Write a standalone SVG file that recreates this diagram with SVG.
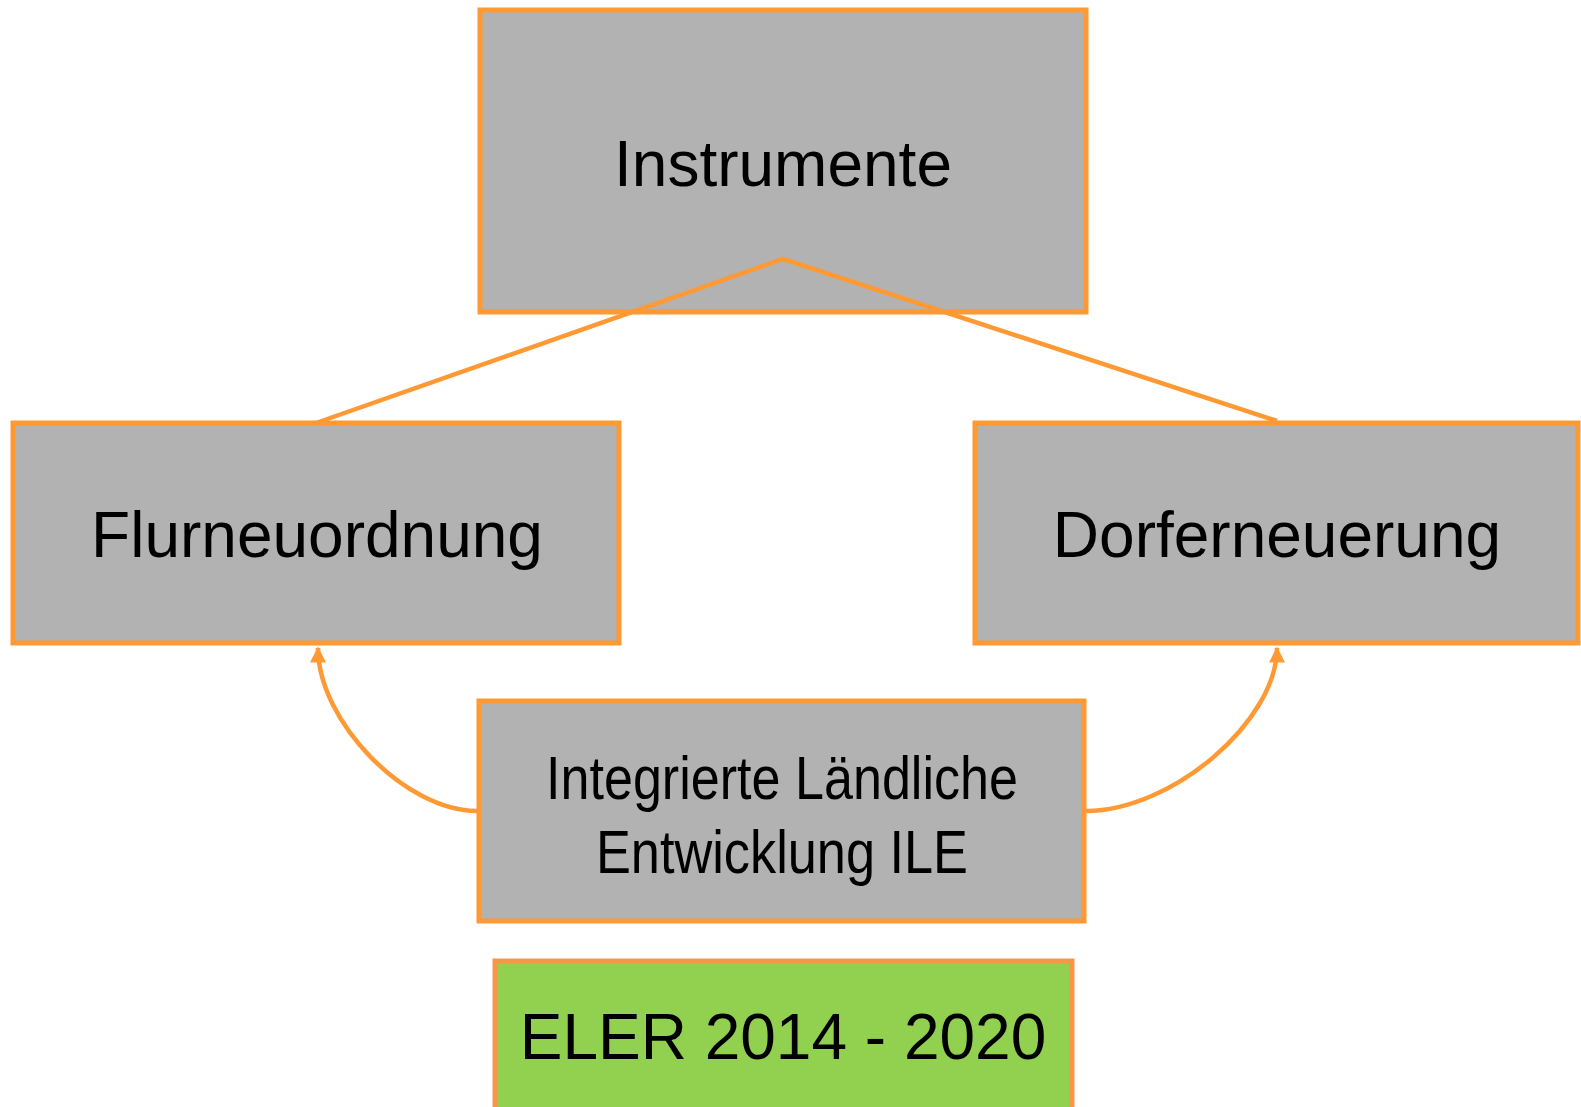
<svg xmlns="http://www.w3.org/2000/svg" width="1581" height="1107" viewBox="0 0 1581 1107">
<defs>
<style>
.box{fill:#B2B2B2;stroke:#FF9933;stroke-width:5}
.green{fill:#92D050;stroke:#F79646;stroke-width:5}
.lbl{font-family:"Liberation Sans",Arial,sans-serif;font-size:64px;fill:#000;text-anchor:middle}
.cn{fill:none;stroke:#FF9933;stroke-width:4.5}
</style>
<marker id="ah" viewBox="0 0 10 10" refX="9" refY="5" markerWidth="3.8" markerHeight="3.6" orient="auto" markerUnits="strokeWidth">
<path d="M0,0 L10,5 L0,10 z" fill="#FF9933"/>
</marker>
</defs>
<rect width="1581" height="1107" fill="#fff"/>
<g id="n-instrumente">
<rect class="box" x="480" y="10" width="606" height="302"/>
<text class="lbl" x="783" y="186">Instrumente</text>
</g>
<g id="n-flur">
<rect class="box" x="13" y="423" width="606" height="220"/>
<text class="lbl" x="317" y="557">Flurneuordnung</text>
</g>
<g id="n-dorf">
<rect class="box" x="975" y="423" width="603" height="220"/>
<text class="lbl" x="1277" y="557">Dorferneuerung</text>
</g>
<g id="n-ile">
<rect class="box" x="479" y="701" width="605" height="220"/>
<text class="lbl" x="782" y="799" textLength="472" lengthAdjust="spacingAndGlyphs" style="font-size:62px">Integrierte Ländliche</text>
<text class="lbl" x="782" y="873" textLength="372" lengthAdjust="spacingAndGlyphs" style="font-size:62px">Entwicklung ILE</text>
</g>
<g id="n-eler">
<rect class="green" x="495" y="961" width="577" height="160"/>
<text class="lbl" x="783" y="1059">ELER 2014 - 2020</text>
</g>
<g id="connectors">
<polyline class="cn" points="316,423 783,259 1277,421"/>
<path class="cn" d="M477,811 C405,811 318,721 318,648" marker-end="url(#ah)"/>
<path class="cn" d="M1086,811 C1172,811 1277,721 1277,648" marker-end="url(#ah)"/>
</g>
</svg>
